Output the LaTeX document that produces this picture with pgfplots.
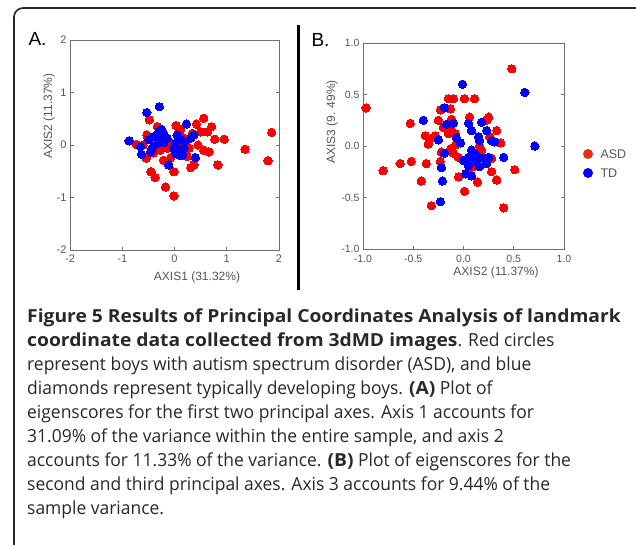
\documentclass[border=0pt]{standalone}
\usepackage{pgfplots}
\pgfplotsset{compat=1.18}
\usepackage{fontspec}
\setmainfont{Liberation Sans}
\newfontfamily\capreg{Open Sans}[FakeStretch=0.97]
\newfontfamily\capbold{Open Sans}[FakeStretch=1.07]
\newcommand\cb[1]{{\capbold\bfseries #1}}
\definecolor{tickgray}{RGB}{85,85,85}
\definecolor{axgray}{RGB}{110,110,110}
\definecolor{ptred}{RGB}{250,0,0}
\definecolor{ptblue}{RGB}{0,0,250}
\definecolor{legred}{RGB}{230,45,15}
\definecolor{captext}{RGB}{40,40,40}
\pgfplotsset{
  pc/.style={
    scale only axis, anchor=south west,
    axis line style={draw=axgray, line width=0.9pt},
    tick style={draw=axgray, line width=0.9pt},
    major tick length=3.5pt, tick align=inside,
    xtick pos=bottom, ytick pos=both,
    ticklabel style={font=\fontsize{11}{11}\selectfont, text=tickgray},
    xticklabel style={yshift=-1.5pt},
    /pgf/number format/assume math mode=true,
    clip=false,
  },
  redm/.style={color=ptred, only marks, mark=*, mark size=4.2pt, mark options={draw=ptred, fill=ptred, line width=0pt}},
  bluem/.style={color=ptblue, only marks, mark=*, mark size=4.2pt, mark options={draw=ptblue, fill=ptblue, line width=0pt}},
}
\begin{document}
\begin{tikzpicture}
\useasboundingbox (0pt,0pt) rectangle (636pt,-544pt);
\begin{scope}
\clip (0pt,0pt) rectangle (636pt,-544pt);
\draw[line width=1.6pt, rounded corners=9pt, black!85] (14pt,-560pt) -- (14pt,-8pt) -- (660pt,-8pt);
\end{scope}
% divider
\draw[line width=3pt, black] (298pt,-25pt) -- (298pt,-290pt);

% Panel A
\begin{axis}[pc, at={(70pt,-250pt)}, width=209pt, height=210pt,
  xmin=-2, xmax=2, ymin=-2, ymax=2,
  xtick={-2,-1,0,1,2}, ytick={-2,-1,0,1,2}]
\addplot[redm] coordinates {
(1.86,0.24) (1.79,-0.30) (1.35,-0.08) (0.95,0.11) (0.77,0.11) (0.83,-0.38)
(0.56,0.51) (0.71,0.35) (0.63,0.25) (0.50,0.25) (0.42,0.40) (0.56,-0.10)
(0.66,-0.13) (0.37,-0.38) (0.31,-0.43) (0.23,0.10) (0.28,-0.06) (0.03,0.37)
(0.12,0.30) (-0.01,-0.51) (-0.01,-0.97) (-0.17,-0.80) (-0.37,-0.62) (-0.45,-0.51)
(-0.48,0.48) (-0.73,0.01) (-0.54,-0.25) (-0.21,-0.29) (-0.08,-0.25) (-0.27,-0.10)
(-0.14,-0.06) (-0.53,0.19) (0.05,-0.03) (0.24,-0.22) (-0.33,0.35) (0.08,0.25)
(0.34,0.22) (-0.24,0.16) (0.20,-0.10) (-0.40,-0.15) (-0.60,0.0) (0.15,0.15)
(-0.10,0.05) (0.45,0.0)
};
\addplot[bluem] coordinates {
(-0.87,0.08) (-0.53,0.62) (-0.29,0.73) (-0.63,-0.18) (-0.65,-0.03) (0.23,0.40)
(0.37,0.19) (0.31,0.13) (0.40,-0.24) (-0.11,-0.38) (-0.49,0.10) (-0.40,0.16)
(-0.30,0.25) (-0.21,0.22) (-0.33,0.03) (-0.43,-0.06) (-0.27,0.10) (-0.14,0.13)
(-0.46,-0.13) (0.05,0.19) (0.12,0.10) (0.02,0.03) (0.08,-0.10) (0.18,-0.06)
(0.02,-0.16) (0.15,-0.19) (-0.01,-0.06) (0.19,0.06) (-0.25,0.30) (-0.20,0.05)
(0.10,-0.20)
};
\end{axis}

% Panel B
\begin{axis}[pc, at={(363pt,-249pt)}, width=201pt, height=206pt,
  xmin=-1, xmax=1, ymin=-1, ymax=1,
  xtick={-1,-0.5,0,0.5,1}, ytick={-1,-0.5,0,0.5,1},
  /pgf/number format/fixed, /pgf/number format/fixed zerofill,
  /pgf/number format/precision=1,
  xticklabel style={yshift=-1.5pt, font=\fontsize{10.5}{11}\selectfont},
  yticklabel style={font=\fontsize{10.5}{11}\selectfont}]
\addplot[redm] coordinates {
(0.48,0.75) (-0.97,0.37) (0.51,-0.23) (0.40,-0.60) (-0.32,-0.58) (-0.80,-0.24)
(-0.63,-0.17) (-0.52,-0.15) (-0.53,0.22) (-0.42,-0.34) (-0.37,-0.17) (-0.38,0.10)
(-0.35,0.02) (-0.33,0.07) (-0.28,0.10) (-0.25,0.25) (-0.23,0.35) (-0.20,0.18)
(-0.22,-0.06) (-0.23,-0.15) (-0.15,0.46) (-0.10,0.46) (-0.13,0.36) (-0.12,0.26)
(-0.13,0.18) (-0.15,0.12) (-0.08,0.12) (-0.13,-0.03) (-0.10,-0.07) (-0.05,-0.11)
(-0.08,0.01) (0.01,0.46) (0.11,0.46) (0.06,0.28) (-0.05,-0.30) (0.01,-0.44)
(0.14,-0.35) (0.05,-0.24) (0.08,-0.12) (0.16,0.0) (0.23,0.25) (0.25,0.28)
(0.33,0.15) (0.37,0.03) (0.28,-0.25) (0.33,-0.33) (0.28,-0.12) (0.18,-0.04)
(0.13,-0.14) (0.10,-0.20) (0.26,0.09)
};
\addplot[bluem] coordinates {
(0.61,0.52) (0.71,0.0) (0.40,-0.11) (-0.01,0.60) (-0.40,0.25) (-0.19,0.37)
(-0.17,0.21) (-0.10,0.22) (-0.25,0.06) (-0.19,-0.07) (-0.22,-0.21) (-0.21,-0.34)
(-0.23,-0.54) (-0.07,0.08) (-0.03,0.03) (0.0,-0.14) (0.02,-0.27) (0.05,0.22)
(0.08,0.15) (0.18,0.23) (0.23,0.15) (0.15,0.09) (0.16,0.05) (0.28,0.05)
(0.31,0.04) (0.08,-0.04) (0.11,-0.07) (0.05,-0.11) (0.15,-0.11) (0.20,-0.12)
(0.23,-0.17) (0.16,-0.20) (0.08,-0.29) (0.13,-0.15) (0.25,-0.11) (0.05,-0.19)
};
\end{axis}

% axis labels
\node[text=tickgray, font=\fontsize{12}{12}\selectfont] at (197pt,-277pt) {AXIS1 (31.32\%)};
\node[text=tickgray, font=\fontsize{12}{12}\selectfont, rotate=90] at (49pt,-116pt) {AXIS2 (11.37\%)};
\node[text=tickgray, font=\fontsize{12}{12}\selectfont] at (496pt,-272pt) {AXIS2 (11.37\%)};
\node[text=tickgray, font=\fontsize{12}{12}\selectfont, rotate=90] at (332pt,-122pt) {AXIS3 (9. 49\%)};

% panel letters
\node[anchor=base west, font=\fontsize{19}{19}\selectfont] at (25pt,-45pt) {A.};
\node[anchor=base west, font=\fontsize{19}{19}\selectfont] at (308pt,-46pt) {B.};

% legend
\fill[legred] (588pt,-154pt) circle (5pt);
\fill[ptblue] (588pt,-173pt) circle (5pt);
\node[anchor=west, text=tickgray, font=\fontsize{12.5}{12}\selectfont] at (597pt,-154pt) {ASD};
\node[anchor=west, text=tickgray, font=\fontsize{12.5}{12}\selectfont] at (597pt,-173pt) {TD};

% caption
\begin{scope}[every node/.style={anchor=base west, inner sep=0pt, text=captext, font=\capreg\fontsize{18}{24}\selectfont}]
\node at (27pt,-322pt) {\cb{Figure 5 Results of Principal Coordinates Analysis of landmark}};
\node at (27pt,-346pt) {\cb{coordinate data collected from 3dMD images}. Red circles};
\node at (27pt,-370pt) {represent boys with autism spectrum disorder (ASD), and blue};
\node at (27pt,-394pt) {diamonds represent typically developing boys. \cb{(A)} Plot of};
\node at (27pt,-418pt) {eigenscores for the first two principal axes. Axis 1 accounts for};
\node at (27pt,-442pt) {31.09\% of the variance within the entire sample, and axis 2};
\node at (27pt,-466pt) {accounts for 11.33\% of the variance. \cb{(B)} Plot of eigenscores for the};
\node at (27pt,-490pt) {second and third principal axes. Axis 3 accounts for 9.44\% of the};
\node at (27pt,-514pt) {sample variance.};
\end{scope}
\end{tikzpicture}
\end{document}
